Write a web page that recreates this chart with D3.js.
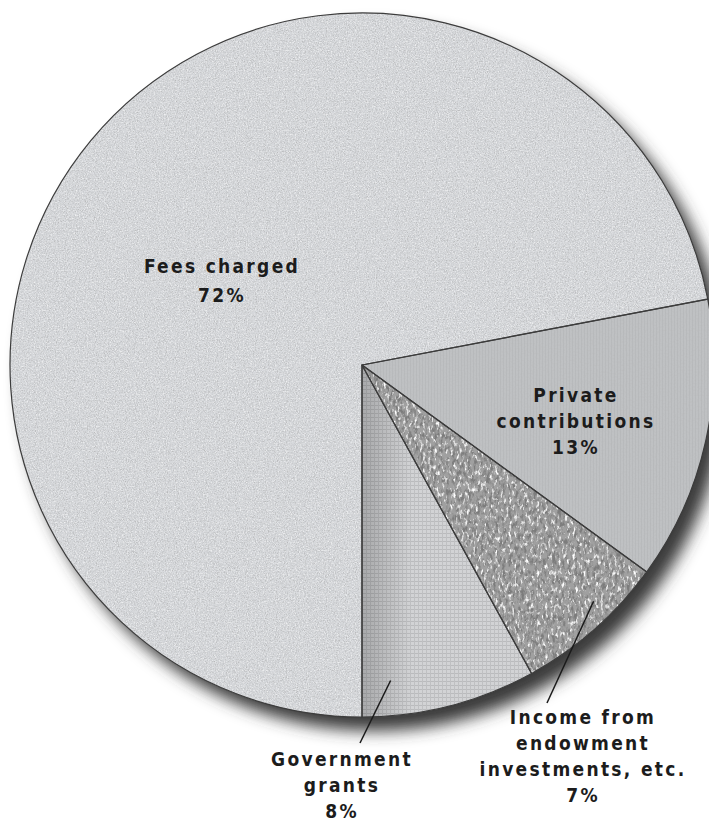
<!DOCTYPE html>
<html><head><meta charset="utf-8">
<script src="https://cdn.jsdelivr.net/npm/d3@7"></script>
<style>html,body{margin:0;padding:0;background:#fff;overflow:hidden}</style>
</head><body>
<svg id="c" width="709" height="823"></svg>
<script>
// ---- data ----
const categories = ["Fees charged", "Private contributions", "Income from endowment investments, etc.", "Government grants"];
const values = [72, 13, 7, 8];
const labelLines = [
  ["Fees charged", "72%"],
  ["Private", "contributions", "13%"],
  ["Income from", "endowment", "investments, etc.", "7%"],
  ["Government", "grants", "8%"]
];

// ---- layout ----
const W = 709, H = 823;
const cx = 362, cy = 365, R = 352;
const svg = d3.select("#c");
const defs = svg.append("defs");

// shadow filter
const sh = defs.append("filter").attr("id","shadow").attr("x","-20%").attr("y","-20%").attr("width","140%").attr("height","140%");
sh.append("feGaussianBlur").attr("stdDeviation", 8);

// texture filter: source + dark noise + light noise, clipped to shape
function textureFilter(id, opts){
  const f = defs.append("filter").attr("id", id).attr("x",0).attr("y",0).attr("width",1).attr("height",1);
  const layers = [];
  opts.forEach((o, idx) => {
    f.append("feTurbulence").attr("type","fractalNoise").attr("baseFrequency",o.freq).attr("numOctaves",o.oct).attr("seed",o.seed).attr("result","t"+idx);
    f.append("feColorMatrix").attr("in","t"+idx).attr("type","matrix")
      .attr("values",`0 0 0 0 ${o.c}  0 0 0 0 ${o.c}  0 0 0 0 ${o.c}  ${o.k} 0 0 0 ${o.b}`).attr("result","n"+idx);
    f.append("feComposite").attr("in","n"+idx).attr("in2","SourceGraphic").attr("operator","in").attr("result","nc"+idx);
    layers.push("nc"+idx);
  });
  const m = f.append("feMerge");
  m.append("feMergeNode").attr("in","SourceGraphic");
  layers.forEach(l => m.append("feMergeNode").attr("in", l));
}
textureFilter("texFees", [
  {freq:"0.9", oct:2, seed:3, k:1.6, b:-0.68, c:0.4},
  {freq:"0.75", oct:2, seed:5, k:-1.6, b:0.82, c:1}
]);
textureFilter("texIncome", [
  {freq:"0.32 0.16", oct:3, seed:7, k:3.6, b:-1.55, c:0.2},
  {freq:"0.36 0.18", oct:3, seed:19, k:-3.8, b:1.7, c:1}
]);
textureFilter("texPriv", [
  {freq:"0.6", oct:1, seed:23, k:0.8, b:-0.38, c:0.45}
]);

// grid pattern for government grants
const gp = defs.append("pattern").attr("id","grid").attr("patternUnits","userSpaceOnUse").attr("width",4).attr("height",4);
gp.append("rect").attr("width",4).attr("height",4).attr("fill","#d2d3d5");
gp.append("rect").attr("width",4).attr("height",1).attr("fill","#babbbd");
gp.append("rect").attr("width",1).attr("height",4).attr("fill","#bfc0c2");

// vertical line pattern for private contributions
const vp = defs.append("pattern").attr("id","vlines").attr("patternUnits","userSpaceOnUse").attr("width",3).attr("height",10);
vp.append("rect").attr("width",3).attr("height",10).attr("fill","#bfc1c3");
vp.append("rect").attr("width",1).attr("height",10).attr("fill","#b8babc");

// gradient darkening at left edge of government slice
const lg = defs.append("linearGradient").attr("id","govshade").attr("gradientUnits","userSpaceOnUse")
  .attr("x1", 0).attr("y1",0).attr("x2", 50).attr("y2",0);
lg.append("stop").attr("offset",0).attr("stop-color","#000").attr("stop-opacity",0.2);
lg.append("stop").attr("offset",1).attr("stop-color","#000").attr("stop-opacity",0);

const pie = d3.pie().sort(null).value(d => d).startAngle(Math.PI).endAngle(3*Math.PI);
const arcs = pie(values);
const arc = d3.arc().innerRadius(0).outerRadius(R);

// shadow
svg.append("circle").attr("cx", cx+12).attr("cy", cy+14).attr("r", R).attr("fill","#3a3a3a").attr("filter","url(#shadow)");

const g = svg.append("g").attr("transform",`translate(${cx},${cy})`);

const fills = ["#d6d8db", "url(#vlines)", "#a0a0a0", "url(#grid)"];
const filters = ["url(#texFees)", "url(#texPriv)", "url(#texIncome)", null];

arcs.forEach((a,i) => {
  const p = g.append("path").attr("d", arc(a)).attr("fill", fills[i]);
  if (filters[i]) p.attr("filter", filters[i]);
  if (i === 3) g.append("path").attr("d", arc(a)).attr("fill", "url(#govshade)");
});
// outlines
arcs.forEach((a,i) => {
  g.append("path").attr("d", arc(a)).attr("fill","none").attr("stroke","#3c3c3c").attr("stroke-width",1.2).attr("stroke-linejoin","round");
});

// leader lines: point inside slice (fraction of slice angle, fraction of radius) to label
const leaders = [null, null, {t:0.38, r:0.94, to:[547,703]}, {t:0.82, r:0.9, to:[360,743]}];
arcs.forEach((a,i) => {
  const L = leaders[i]; if (!L) return;
  const ang = a.startAngle + (a.endAngle - a.startAngle)*L.t;
  const x = Math.sin(ang)*R*L.r, y = -Math.cos(ang)*R*L.r;
  g.append("line").attr("x1", x).attr("y1", y).attr("x2", L.to[0]-cx).attr("y2", L.to[1]-cy)
    .attr("stroke","#1a1a1a").attr("stroke-width",1.5);
});

// labels
const labelPos = [[222, 273], [576, 402], [583, 724], [342, 766]];
const lineH = 26;
labelLines.forEach((lines,i) => {
  const t = svg.append("text").attr("x", labelPos[i][0]).attr("y", labelPos[i][1])
    .attr("text-anchor","middle")
    .attr("font-family","'Liberation Sans Narrow','DejaVu Sans Condensed','Arial Narrow',sans-serif")
    .attr("font-weight","bold").attr("font-size",19).attr("letter-spacing",2.3).attr("fill","#1c1c1c");
  lines.forEach((s,j) => t.append("tspan").attr("x", labelPos[i][0]).attr("dy", j===0?0:(i===0?lineH+3:lineH)).text(s));
});
</script>
</body></html>
